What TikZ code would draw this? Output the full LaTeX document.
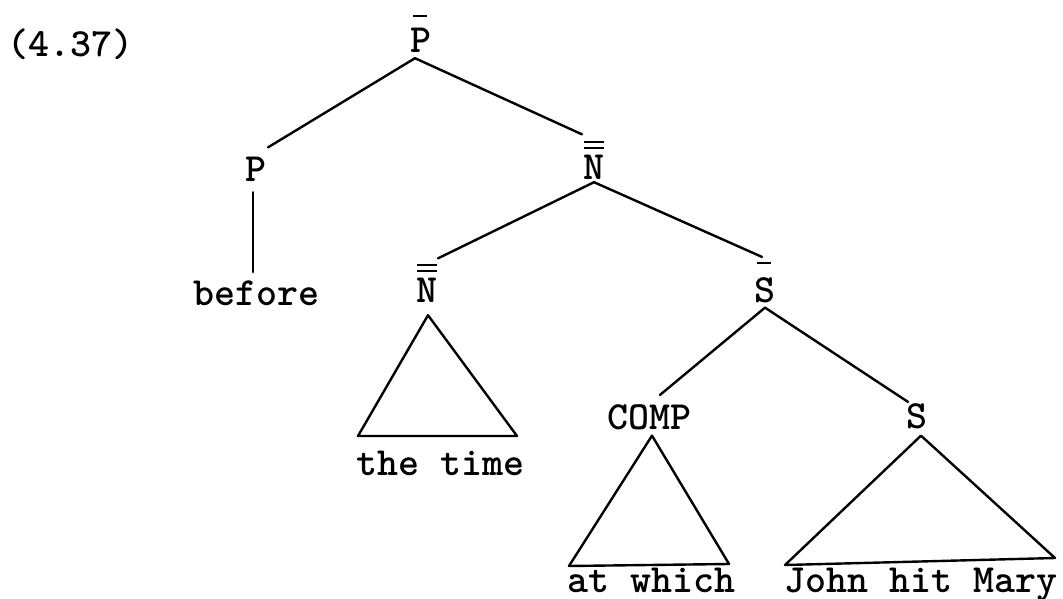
\documentclass[tikz,border=0pt]{standalone}
\usepackage{fontspec}
\newfontfamily\tw[Extension=.otf]{lmmonolt10-bold}
\usetikzlibrary{calc}
\begin{document}
\begin{tikzpicture}[x=1pt,y=-1pt,
  lbl/.style={font=\tw\fontsize{40}{44}\selectfont, inner sep=0pt, anchor=base},
  branch/.style={line width=2.4pt, line cap=round},
  tri/.style={line width=2.4pt, line join=round},
  barline/.style={line width=2.2pt}]
\useasboundingbox (0,0) rectangle (1063,599);
% labels
\node[lbl] (num) at (70,57) {(4.37)};
\node[lbl] (top) at (421,53) {P};
\node[lbl] (p) at (256,182) {P};
\node[lbl] (before) at (256,305) {before};
\node[lbl] (nm) at (594,179) {N};
\node[lbl] (nl) at (427,302) {N};
\node[lbl] (sbar) at (765,302) {S};
\node[lbl] (comp) at (649,429) {COMP};
\node[lbl] (s) at (917,428) {S};
\node[lbl] (thetime) at (440,475) {the time};
\node[lbl] (atwhich) at (651,592) {at which};
\node[lbl] (jhm) at (921,592) {John hit Mary};
% bars
\draw[barline] ($(top.north)+(-8,-12)$) -- ($(top.north)+(6,-12)$);
\draw[barline] ($(nm.north)+(-10,-12)$) -- ($(nm.north)+(10,-12)$);
\draw[barline] ($(nm.north)+(-10,-6)$) -- ($(nm.north)+(10,-6)$);
\draw[barline] ($(nl.north)+(-10,-12)$) -- ($(nl.north)+(10,-12)$);
\draw[barline] ($(nl.north)+(-10,-6)$) -- ($(nl.north)+(10,-6)$);
\draw[barline] ($(sbar.north)+(-8,-14)$) -- ($(sbar.north)+(6,-14)$);
% branch points
\coordinate (topapex) at ($(top.south)+(-6,5)$);
\coordinate (nmapex) at ($(nm.south)+(0,3)$);
\coordinate (sbarapex) at ($(sbar.south)+(0,5)$);
\coordinate (p-in) at ($(p.north)+(12,-10)$);
\coordinate (nm-in) at ($(nm.north)+(-12,-20)$);
\coordinate (nl-in) at ($(nl.north)+(11,-19)$);
\coordinate (sbar-in) at ($(sbar.north)+(-3,-20)$);
\coordinate (comp-in) at ($(comp.north)+(11,-9)$);
\coordinate (s-in) at ($(s.north)+(-9,-1)$);
% branches
\draw[branch] (topapex) -- (p-in);
\draw[branch] (topapex) -- (nm-in);
\draw[branch] ($(p.south)+(-3,10)$) -- ($(before.north)+(-3,-8)$);
\draw[branch] (nmapex) -- (nl-in);
\draw[branch] (nmapex) -- (sbar-in);
\draw[branch] (sbarapex) -- (comp-in);
\draw[branch] (sbarapex) -- (s-in);
% triangles
\coordinate (t1a) at ($(nl.south)+(1,13)$);
\coordinate (t1l) at (358,436);
\coordinate (t1r) at (517,436);
\draw[tri] (t1a) -- (t1l) -- (t1r) -- cycle;
\coordinate (t2a) at ($(comp.south)+(3,6)$);
\coordinate (t2l) at (569,566);
\coordinate (t2r) at (729,564);
\draw[tri] (t2a) -- (t2l) -- (t2r) -- cycle;
\coordinate (t3a) at ($(s.south)+(4,7)$);
\coordinate (t3l) at (785,565);
\coordinate (t3r) at (1055,558);
\draw[tri] (t3a) -- (t3l) -- (t3r) -- cycle;
\end{tikzpicture}
\end{document}
